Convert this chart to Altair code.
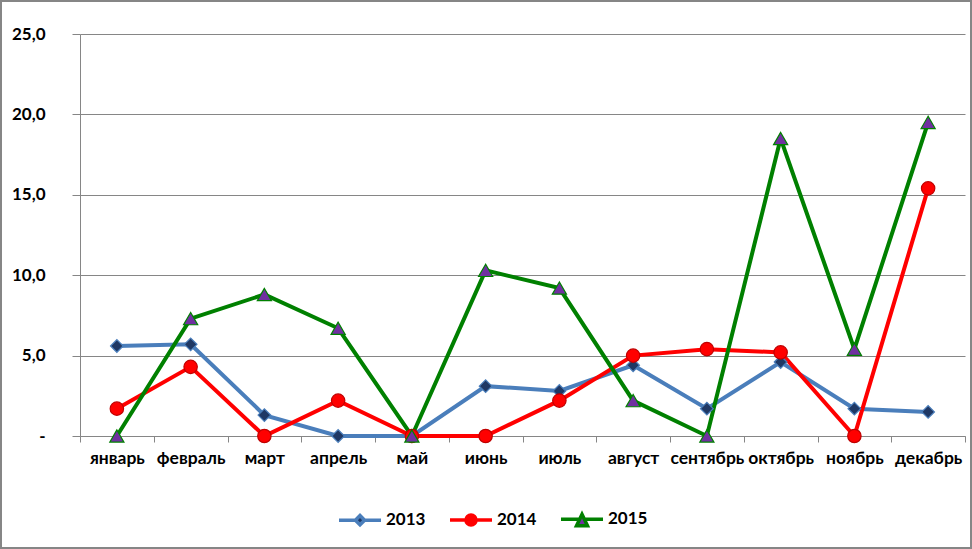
import altair as alt
import pandas as pd

months = ["январь", "февраль", "март", "апрель", "май", "июнь",
          "июль", "август", "сентябрь", "октябрь", "ноябрь", "декабрь"]
years = ["2013", "2014", "2015"]
v2013 = [5.6, 5.7, 1.3, 0.0, 0.0, 3.1, 2.8, 4.4, 1.7, 4.6, 1.7, 1.5]
v2014 = [1.7, 4.3, 0.0, 2.2, 0.0, 0.0, 2.2, 5.0, 5.4, 5.2, 0.0, 15.4]
v2015 = [0.0, 7.3, 8.8, 6.7, 0.0, 10.3, 9.2, 2.2, 0.0, 18.5, 5.4, 19.5]
y_ticks = [0, 5, 10, 15, 20, 25]

line_colors = ["#4A7EBB", "#FF0000", "#008000"]
marker_fill = ["#1F3864", "#FF0000", "#7030A0"]
marker_stroke = ["#4A7EBB", "#C00000", "#008000"]
marker_shapes = ["diamond", "circle", "triangle-up"]
marker_sizes = [160, 200, 280]
legend_shapes = [
    "M-1,0L-0.22,0M0.22,0L1,0M0,-0.22L0.22,0L0,0.22L-0.22,0Z",
    "M-1,0L-0.24,0M0.24,0L1,0M0.24,0A0.24,0.24,0,1,1,-0.24,0A0.24,0.24,0,1,1,0.24,0Z",
    "M-1,0L-0.1,0M0.1,0L1,0M0,-0.24L0.26,0.3L-0.26,0.3Z",
]

rows = []
for yr, vals in zip(years, [v2013, v2014, v2015]):
    for m, v in zip(months, vals):
        rows.append({"month": m, "year": yr, "value": v})
df = pd.DataFrame(rows)

FONT = "Lato, Open Sans, sans-serif"

x_enc = alt.X(
    "month:N", sort=months, bandPosition=0.5,
    scale=alt.Scale(type="band", paddingInner=0, paddingOuter=0),
    axis=alt.Axis(title=None, tickBand="extent", labelAngle=0, tickSize=6,
                  tickColor="#868686", domainColor="#868686", labelPadding=7,
                  labelFont=FONT, labelFontSize=17.5, labelFontWeight="bold",
                  labelColor="#000000", grid=False),
)
y_enc = alt.Y(
    "value:Q", scale=alt.Scale(domain=[0, 25], nice=False),
    axis=alt.Axis(title=None, values=y_ticks, grid=True, gridColor="#868686",
                  tickColor="#868686", domainColor="#868686", tickSize=8,
                  labelPadding=27, labelFont=FONT, labelFontSize=17,
                  labelFontWeight="bold", labelColor="#000000",
                  labelExpr="datum.value == 0 ? '-\u00a0\u00a0\u00a0' : replace(format(datum.value, '.1f'), '.', ',')"),
)

frame = alt.Chart(df).mark_rect(fill=None, stroke="#868686", strokeWidth=2).encode(
    x=alt.value(-79), x2=alt.value(891), y=alt.value(-33), y2=alt.value(514)
).transform_filter("datum.month == 'январь' && datum.year == '2013'")

lines = alt.Chart(df).mark_line(strokeWidth=4).encode(
    x=x_enc, y=y_enc,
    color=alt.Color("year:N", scale=alt.Scale(domain=years, range=line_colors), legend=None),
)

points = alt.Chart(df).mark_point(filled=True, opacity=1, strokeWidth=1.2).encode(
    x=x_enc, y=y_enc,
    shape=alt.Shape("year:N", scale=alt.Scale(domain=years, range=marker_shapes), legend=None),
    fill=alt.Fill("year:N", scale=alt.Scale(domain=years, range=marker_fill), legend=None),
    stroke=alt.Stroke("year:N", scale=alt.Scale(domain=years, range=marker_stroke), legend=None),
    size=alt.Size("year:O", scale=alt.Scale(domain=years, range=marker_sizes), legend=None),
)

legend_layer = alt.Chart(df).transform_filter("false").mark_point(
    filled=True, opacity=1, strokeWidth=3).encode(
    x=x_enc, y=y_enc,
    shape=alt.Shape("year:N", scale=alt.Scale(domain=years, range=legend_shapes),
                    legend=alt.Legend(title=None, orient="none", legendX=257, legendY=462,
                                      direction="horizontal", symbolSize=1764,
                                      symbolStrokeWidth=3.5, symbolOpacity=1,
                                      labelFont=FONT, labelFontSize=17,
                                      labelFontWeight="bold", labelColor="#000000",
                                      labelOffset=3, columnPadding=17)),
    fill=alt.Fill("year:N", scale=alt.Scale(domain=years, range=marker_fill)),
    stroke=alt.Stroke("year:N", scale=alt.Scale(domain=years, range=line_colors)),
)

chart = alt.layer(frame, lines, points, legend_layer).resolve_scale(
    shape="independent", stroke="independent", fill="independent"
).properties(
    width=885, height=402,
    autosize=alt.AutoSizeParams(type="none"),
    padding={"left": 80, "top": 34, "right": 7, "bottom": 113},
    background="white",
).configure_view(stroke=None)

chart.save("out.html", embed_options={"renderer": "svg", "actions": False})
